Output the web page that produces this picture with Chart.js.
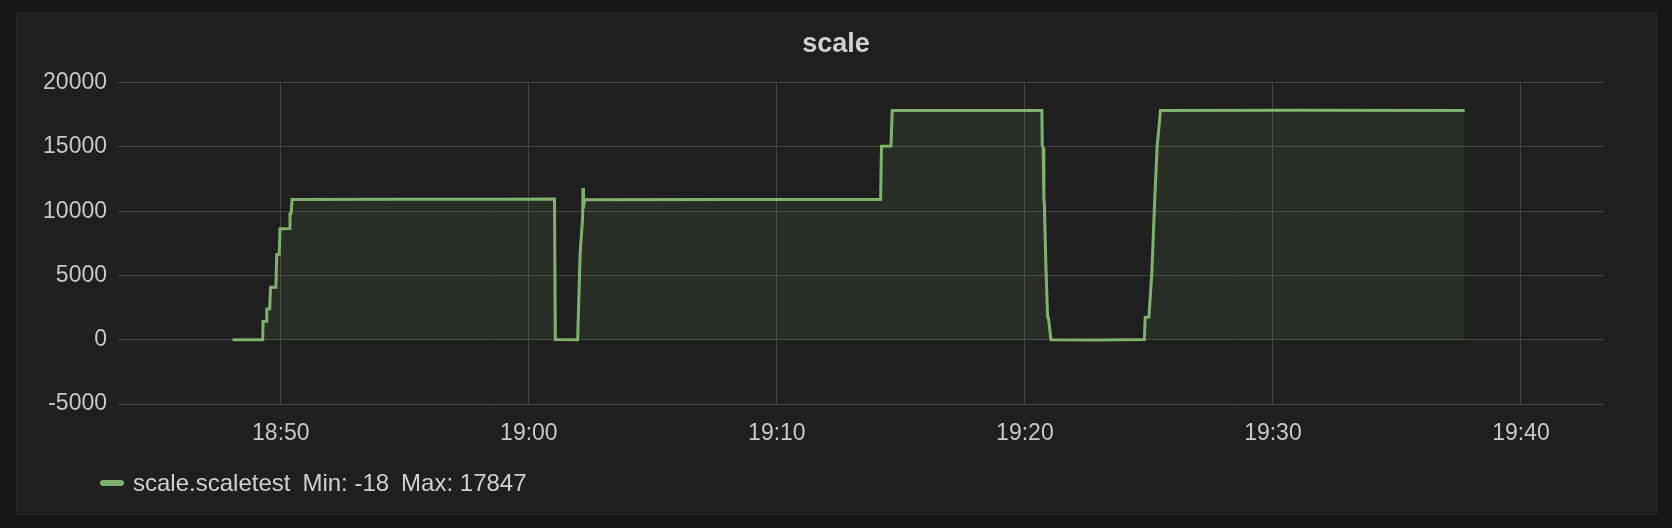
<!DOCTYPE html>
<html>
<head>
<meta charset="utf-8">
<script src="https://cdn.jsdelivr.net/npm/chart.js@4.4.1/dist/chart.umd.min.js"></script>
<style>
    html, body {
        margin: 0;
        padding: 0;
        background: #161616;
        width: 1672px;
        height: 528px;
        overflow: hidden;
        font-family: "Liberation Sans", Arial, sans-serif;
    }
    #panel {
        position: absolute;
        left: 16px;
        top: 12px;
        width: 1639px;
        height: 501px;
        background: #1f1f1f;
        border: 1px solid #282828;
    }
    #chart {
        position: absolute;
        left: 0;
        top: 0;
    }
    #legend {
        position: absolute;
        left: 100px;
        top: 469px;
        height: 28px;
        line-height: 28px;
        font-size: 24px;
        color: #d0d0d0;
        white-space: nowrap;
    }
    #legend .swatch {
        display: inline-block;
        width: 24px;
        height: 6px;
        border-radius: 3px;
        background: #7eb26d;
        vertical-align: middle;
        margin-right: 9px;
        position: relative;
        top: -2px;
    }
    #legend .stat {
        margin-left: 12px;
    }
</style>
</head>
<body>

<div id="panel"></div>
<canvas id="chart" width="1672" height="528"></canvas>
<div id="legend"></div>

<script>

    // =========================================
    // DATA
    // =========================================

    var seriesName = "scale.scaletest";

    var times = [
        "18:48:03", "18:49:16", "18:49:17", "18:49:25", "18:49:26",
        "18:49:33", "18:49:35", "18:49:48", "18:49:50", "18:49:56",
        "18:49:58", "18:50:20", "18:50:22", "18:50:25", "18:50:27",
        "18:55:00", "18:58:40", "19:01:02", "19:01:04", "19:01:58",
        "19:02:04", "19:02:10", "19:02:11", "19:02:12", "19:02:15",
        "19:08:00", "19:14:11", "19:14:13", "19:14:36", "19:14:39",
        "19:17:30", "19:20:41", "19:20:42", "19:20:44", "19:20:46",
        "19:20:47", "19:20:51", "19:20:55", "19:20:57", "19:21:03",
        "19:23:00", "19:24:49", "19:24:51", "19:25:00", "19:25:07",
        "19:25:14", "19:25:20", "19:25:28", "19:31:00", "19:37:44"
    ];

    var values = [
        0, 5, 1430, 1440, 2400,
        2410, 4080, 4090, 6630, 6640,
        8640, 8650, 9810, 9830, 10920,
        10940, 10930, 10950, 20, 0,
        6700, 9500, 11810, 10200, 10900,
        10910, 10920, 15060, 15080, 17830,
        17840, 17840, 15100, 14950, 10900,
        10650, 5550, 1750, 1700, 0,
        -18, 10, 1740, 1760, 5130,
        10850, 15060, 17830, 17847, 17840
    ];

    var xTickLabels = ["18:50", "19:00", "19:10", "19:20", "19:30", "19:40"];
    var yTickValues = [-5000, 0, 5000, 10000, 15000, 20000];

    var xRange = ["18:43:26", "19:43:21"];

    // =========================================
    // HELPERS
    // =========================================

    function toMinutes(str) {

        var parts = str.split(":");
        var h = parseInt(parts[0], 10);
        var m = parseInt(parts[1], 10);
        var s = parts.length > 2 ? parseInt(parts[2], 10) : 0;

        return h * 60 + m + s / 60;
    }

    function formatMinutes(value) {

        var total = Math.round(value);
        var h = Math.floor(total / 60);
        var m = total % 60;

        return (h < 10 ? "0" : "") + h + ":" + (m < 10 ? "0" : "") + m;
    }

    var points = times.map(function (t, i) {
        return { x: toMinutes(t), y: values[i] };
    });

    // =========================================
    // LEGEND
    // =========================================

    var minValue = Math.min.apply(null, values);
    var maxValue = Math.max.apply(null, values);

    document.getElementById("legend").innerHTML =
        '<span class="swatch"></span>' +
        '<span>' + seriesName + '</span>' +
        '<span class="stat">Min: ' + minValue + '</span>' +
        '<span class="stat">Max: ' + maxValue + '</span>';

    // =========================================
    // CHART
    // =========================================

    var tickColor = "#c8c8c8";
    var gridColor = "#464646";
    var fontFamily = "'Liberation Sans', Arial, sans-serif";

    new Chart(document.getElementById("chart"), {

        type: "line",

        data: {
            datasets: [{
                label: seriesName,
                data: points,
                borderColor: "#7eb26d",
                backgroundColor: "rgba(126, 178, 109, 0.1)",
                borderWidth: 3,
                pointRadius: 0,
                tension: 0,
                fill: "origin"
            }]
        },

        options: {

            responsive: false,
            animation: false,
            devicePixelRatio: 1,

            layout: {
                padding: {
                    top: 12,
                    right: 0,
                    bottom: 64.4,
                    left: 0
                }
            },

            plugins: {
                legend: {
                    display: false
                },
                tooltip: {
                    enabled: false
                },
                title: {
                    display: true,
                    text: "scale",
                    color: "#d0d0d0",
                    font: {
                        family: fontFamily,
                        size: 27,
                        weight: "bold"
                    },
                    padding: {
                        top: 16.5,
                        bottom: 21.8
                    }
                }
            },

            scales: {

                x: {
                    type: "linear",
                    min: toMinutes(xRange[0]),
                    max: toMinutes(xRange[1]),
                    afterBuildTicks: function (scale) {
                        scale.ticks = xTickLabels.map(function (label) {
                            return { value: toMinutes(label) };
                        });
                    },
                    ticks: {
                        color: tickColor,
                        padding: 16,
                        autoSkip: false,
                        maxRotation: 0,
                        font: {
                            family: fontFamily,
                            size: 23
                        },
                        callback: function (value) {
                            return formatMinutes(value);
                        }
                    },
                    grid: {
                        color: gridColor,
                        lineWidth: 1,
                        drawTicks: false
                    },
                    border: {
                        display: false
                    }
                },

                y: {
                    min: yTickValues[0],
                    max: yTickValues[yTickValues.length - 1],
                    afterBuildTicks: function (scale) {
                        scale.ticks = yTickValues.map(function (v) {
                            return { value: v };
                        });
                    },
                    afterFit: function (scale) {
                        scale.width = 118;
                    },
                    ticks: {
                        color: tickColor,
                        padding: 11,
                        font: {
                            family: fontFamily,
                            size: 23
                        },
                        callback: function (value) {
                            return String(value);
                        }
                    },
                    grid: {
                        color: gridColor,
                        lineWidth: 1,
                        drawTicks: false
                    },
                    border: {
                        display: false
                    }
                },

                // empty right gutter so the title stays centred on the panel
                yRight: {
                    position: "right",
                    min: 0,
                    max: 1,
                    afterFit: function (scale) {
                        scale.width = 68;
                    },
                    ticks: {
                        display: false
                    },
                    grid: {
                        display: false
                    },
                    border: {
                        display: false
                    }
                }
            }
        }
    });

</script>
</body>
</html>
